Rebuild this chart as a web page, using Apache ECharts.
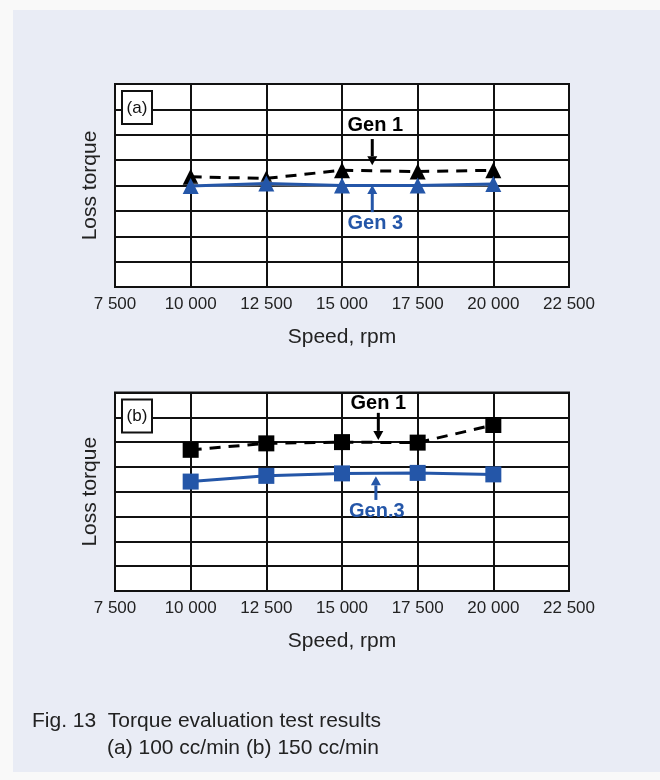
<!DOCTYPE html>
<html>
<head>
<meta charset="utf-8">
<script src="https://cdn.jsdelivr.net/npm/echarts@6/dist/echarts.min.js"></script>
<style>
  html, body { margin: 0; padding: 0; background: #f9f9f9; }
  #chart { width: 660px; height: 780px; }
</style>
</head>
<body>
<div id="chart"></div>
<script>
// ---- data ----
const speeds = [10000, 12500, 15000, 17500, 20000];
const gen1A = [4.34, 4.28, 4.60, 4.55, 4.60];
const gen3A = [3.98, 4.08, 4.00, 4.00, 4.06];
const gen1B = [5.69, 5.95, 6.00, 5.98, 6.69];
const gen3B = [4.41, 4.64, 4.74, 4.76, 4.70];
const xTickLabels = ['7 500', '10 000', '12 500', '15 000', '17 500', '20 000', '22 500'];
const xMin = 7500, xMax = 22500, xStep = 2500;
const yMin = 0, yMax = 8, yStep = 1;

const FONT = "'Liberation Sans Narrow', 'Liberation Sans', Arial, sans-serif";
const BLUE = '#2456a8';

const chart = echarts.init(document.getElementById('chart'), null, { renderer: 'canvas' });

function pairs(ys) { return speeds.map((x, i) => [x, ys[i]]); }

function xAxisFor(gi) {
  return {
    type: 'value', gridIndex: gi, min: xMin, max: xMax, interval: xStep,
    name: 'Speed, rpm', nameLocation: 'middle', nameGap: 40,
    nameTextStyle: { fontFamily: FONT, fontSize: 21, color: '#222' },
    axisLine: { show: false }, axisTick: { show: false },
    axisLabel: {
      margin: 9, fontFamily: FONT, fontSize: 17, color: '#222',
      formatter: v => xTickLabels[Math.round((v - xMin) / xStep)]
    },
    splitLine: { show: true, lineStyle: { color: '#111', width: 2 } }
  };
}
function yAxisFor(gi) {
  return {
    type: 'value', gridIndex: gi, min: yMin, max: yMax, interval: yStep,
    name: 'Loss torque', nameLocation: 'middle', nameGap: 14,
    nameTextStyle: { fontFamily: FONT, fontSize: 21, color: '#222' },
    axisLine: { show: false }, axisTick: { show: false },
    axisLabel: { show: false },
    splitLine: { show: true, lineStyle: { color: '#111', width: 2 } }
  };
}
function gen1Series(gi, data, symbol) {
  return {
    type: 'line', xAxisIndex: gi, yAxisIndex: gi, data: pairs(data),
    symbol: symbol, symbolSize: 16,
    itemStyle: { color: '#000' },
    lineStyle: { color: '#000', width: 3, type: [11, 8] },
    z: 3
  };
}
function gen3Series(gi, data, symbol) {
  return {
    type: 'line', xAxisIndex: gi, yAxisIndex: gi, data: pairs(data),
    symbol: symbol, symbolSize: 16,
    itemStyle: { color: BLUE },
    lineStyle: { color: BLUE, width: 3, shadowColor: 'rgba(255,255,255,0.9)', shadowBlur: 3 },
    z: 4
  };
}

chart.setOption({
  animation: false,
  backgroundColor: '#f9f9f9',
  grid: [
    { left: 115, top: 84, width: 454, height: 203, show: true, backgroundColor: '#fff', borderColor: '#111', borderWidth: 2 },
    { left: 115, top: 392.5, width: 454, height: 198.5, show: true, backgroundColor: '#fff', borderColor: '#111', borderWidth: 2 }
  ],
  xAxis: [xAxisFor(0), xAxisFor(1)],
  yAxis: [yAxisFor(0), yAxisFor(1)],
  series: [
    gen1Series(0, gen1A, 'triangle'),
    gen3Series(0, gen3A, 'triangle'),
    gen1Series(1, gen1B, 'rect'),
    gen3Series(1, gen3B, 'rect')
  ]
});

// ---- annotations (positioned in data space) ----
const annotations = [
  { grid: 0, text: 'Gen 1', color: '#000', at: [16100, 6.38], arrow: [[16000, 5.83], [16000, 4.80]] },
  { grid: 0, text: 'Gen 3', color: BLUE, at: [16100, 2.52], arrow: [[16000, 2.95], [16000, 4.02]] },
  { grid: 1, text: 'Gen 1', color: '#000', at: [16200, 7.57], arrow: [[16200, 7.18], [16200, 6.09]] },
  { grid: 1, text: 'Gen.3', color: BLUE, at: [16150, 3.20], arrow: [[16120, 3.67], [16120, 4.62]] }
];
const panelTags = ['(a)', '(b)'];

const g = [{ type: 'rect', shape: { x: 13, y: 10, width: 647, height: 762 }, style: { fill: '#e9ecf5' }, z: -10, silent: true }];
annotations.forEach(a => {
  const f = { xAxisIndex: a.grid, yAxisIndex: a.grid };
  const p = chart.convertToPixel(f, a.at);
  const s = chart.convertToPixel(f, a.arrow[0]);
  const e = chart.convertToPixel(f, a.arrow[1]);
  g.push({ type: 'text', x: p[0], y: p[1], z: 20,
    style: { text: a.text, fill: a.color, font: 'bold 20px ' + FONT, align: 'center', verticalAlign: 'middle' } });
  const dir = Math.sign(e[1] - s[1]);
  const tipBase = e[1] - dir * 9;
  g.push({ type: 'line', z: 20, shape: { x1: s[0], y1: s[1], x2: e[0], y2: tipBase },
    style: { stroke: a.color, lineWidth: 3 } });
  g.push({ type: 'polygon', z: 20, shape: { points: [[e[0] - 5, tipBase], [e[0] + 5, tipBase], [e[0], e[1]]] },
    style: { fill: a.color } });
});
[0, 1].forEach(gi => {
  const tl = chart.convertToPixel({ xAxisIndex: gi, yAxisIndex: gi }, [xMin, yMax]);
  g.push({ type: 'rect', z: 20, shape: { x: tl[0] + 7, y: tl[1] + 7, width: 30, height: 33 },
    style: { fill: '#fff', stroke: '#111', lineWidth: 2 } });
  g.push({ type: 'text', z: 21, x: tl[0] + 22, y: tl[1] + 24,
    style: { text: panelTags[gi], fill: '#111', font: '17px ' + FONT, align: 'center', verticalAlign: 'middle' } });
});
g.push({ type: 'text', z: 20, x: 32, y: 721,
  style: { text: 'Fig. 13  Torque evaluation test results', fill: '#222', font: '21px ' + FONT, verticalAlign: 'middle' } });
g.push({ type: 'text', z: 20, x: 107, y: 748,
  style: { text: '(a) 100 cc/min (b) 150 cc/min', fill: '#222', font: '21px ' + FONT, verticalAlign: 'middle' } });

chart.setOption({ graphic: g });
</script>
</body>
</html>
